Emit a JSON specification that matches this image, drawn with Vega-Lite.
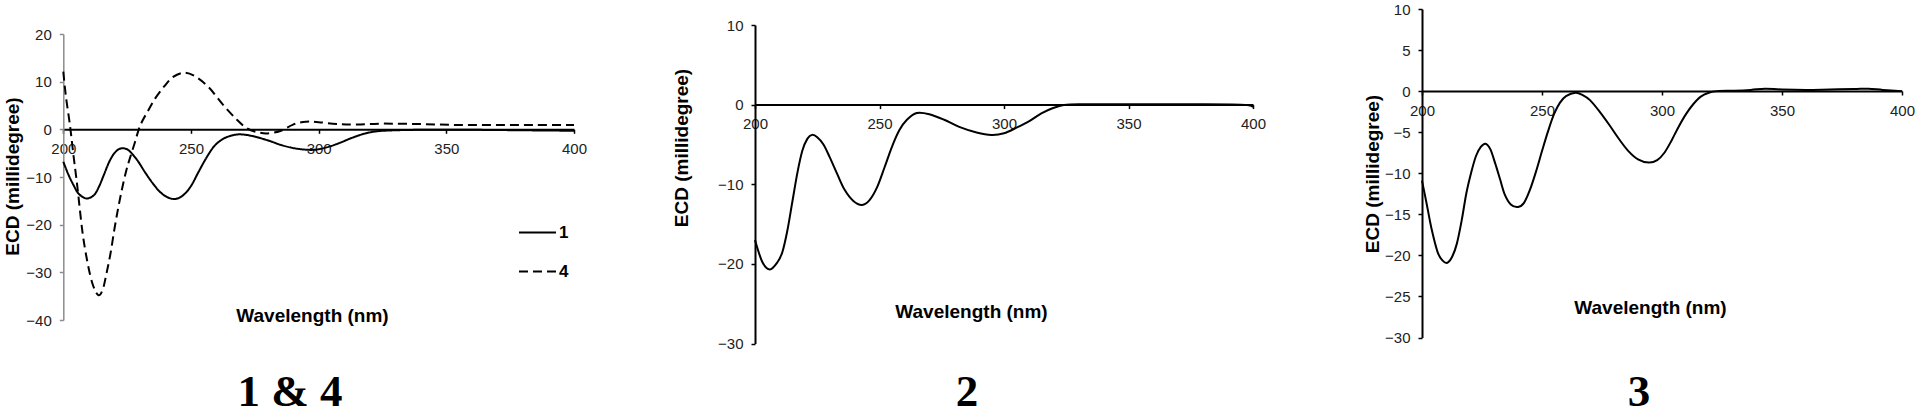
{
  "$schema": "https://vega.github.io/schema/vega-lite/v6.json",
  "padding": 0,
  "spacing": 0,
  "background": "white",
  "config": {
    "view": {"stroke": null},
    "axis": {
      "grid": false,
      "labelFont": "Liberation Sans",
      "labelFontSize": 15,
      "labelColor": "#222222",
      "labelFlush": false,
      "labelOverlap": false,
      "labelPadding": 8,
      "titleFont": "Liberation Sans",
      "titleFontSize": 19,
      "titleFontWeight": "bold",
      "titleColor": "black",
      "domainColor": "black",
      "domainWidth": 2,
      "tickColor": "black",
      "tickSize": 4,
      "tickWidth": 1.5
    },
    "line": {"color": "black", "strokeWidth": 2, "interpolate": "cardinal"}
  },
  "datasets": {
    "p1": [
      {"wl": 200, "ecd": -6.8, "compound": "1"},
      {"wl": 202, "ecd": -9.5, "compound": "1"},
      {"wl": 204, "ecd": -11.7, "compound": "1"},
      {"wl": 206, "ecd": -13.5, "compound": "1"},
      {"wl": 209, "ecd": -14.5, "compound": "1"},
      {"wl": 212, "ecd": -13.8, "compound": "1"},
      {"wl": 214, "ecd": -12.0, "compound": "1"},
      {"wl": 216, "ecd": -9.4, "compound": "1"},
      {"wl": 218, "ecd": -6.8, "compound": "1"},
      {"wl": 220, "ecd": -5.0, "compound": "1"},
      {"wl": 222, "ecd": -4.1, "compound": "1"},
      {"wl": 224, "ecd": -4.0, "compound": "1"},
      {"wl": 226, "ecd": -4.6, "compound": "1"},
      {"wl": 229, "ecd": -6.5, "compound": "1"},
      {"wl": 232, "ecd": -9.0, "compound": "1"},
      {"wl": 235, "ecd": -11.3, "compound": "1"},
      {"wl": 238, "ecd": -13.2, "compound": "1"},
      {"wl": 241, "ecd": -14.3, "compound": "1"},
      {"wl": 244, "ecd": -14.6, "compound": "1"},
      {"wl": 247, "ecd": -13.8, "compound": "1"},
      {"wl": 250, "ecd": -11.9, "compound": "1"},
      {"wl": 253, "ecd": -8.9, "compound": "1"},
      {"wl": 256, "ecd": -6.0, "compound": "1"},
      {"wl": 259, "ecd": -3.6, "compound": "1"},
      {"wl": 262, "ecd": -2.2, "compound": "1"},
      {"wl": 265, "ecd": -1.45, "compound": "1"},
      {"wl": 269, "ecd": -1.05, "compound": "1"},
      {"wl": 274, "ecd": -1.4, "compound": "1"},
      {"wl": 280, "ecd": -2.3, "compound": "1"},
      {"wl": 286, "ecd": -3.4, "compound": "1"},
      {"wl": 292, "ecd": -4.1, "compound": "1"},
      {"wl": 298, "ecd": -4.3, "compound": "1"},
      {"wl": 303, "ecd": -3.8, "compound": "1"},
      {"wl": 308, "ecd": -2.9, "compound": "1"},
      {"wl": 313, "ecd": -1.8, "compound": "1"},
      {"wl": 318, "ecd": -0.9, "compound": "1"},
      {"wl": 323, "ecd": -0.4, "compound": "1"},
      {"wl": 330, "ecd": -0.2, "compound": "1"},
      {"wl": 340, "ecd": -0.1, "compound": "1"},
      {"wl": 360, "ecd": -0.1, "compound": "1"},
      {"wl": 380, "ecd": -0.2, "compound": "1"},
      {"wl": 400, "ecd": -0.3, "compound": "1"},
      {"wl": 200, "ecd": 12.1, "compound": "4"},
      {"wl": 201, "ecd": 7.0, "compound": "4"},
      {"wl": 202.6, "ecd": 0.9, "compound": "4"},
      {"wl": 204, "ecd": -5.5, "compound": "4"},
      {"wl": 205.5, "ecd": -12.0, "compound": "4"},
      {"wl": 207.5, "ecd": -21.5, "compound": "4"},
      {"wl": 209.5, "ecd": -28.0, "compound": "4"},
      {"wl": 211.5, "ecd": -32.5, "compound": "4"},
      {"wl": 213.7, "ecd": -34.8, "compound": "4"},
      {"wl": 215.5, "ecd": -33.5, "compound": "4"},
      {"wl": 217, "ecd": -30.0, "compound": "4"},
      {"wl": 218.5, "ecd": -26.0, "compound": "4"},
      {"wl": 220, "ecd": -21.0, "compound": "4"},
      {"wl": 221.5, "ecd": -16.5, "compound": "4"},
      {"wl": 223, "ecd": -12.5, "compound": "4"},
      {"wl": 224.5, "ecd": -9.0, "compound": "4"},
      {"wl": 226, "ecd": -6.2, "compound": "4"},
      {"wl": 228, "ecd": -2.8, "compound": "4"},
      {"wl": 229.5, "ecd": -0.1, "compound": "4"},
      {"wl": 231, "ecd": 1.8, "compound": "4"},
      {"wl": 233, "ecd": 3.7, "compound": "4"},
      {"wl": 236, "ecd": 6.5, "compound": "4"},
      {"wl": 239.5, "ecd": 9.0, "compound": "4"},
      {"wl": 243, "ecd": 11.0, "compound": "4"},
      {"wl": 247.5, "ecd": 11.9, "compound": "4"},
      {"wl": 252, "ecd": 11.0, "compound": "4"},
      {"wl": 257, "ecd": 8.8, "compound": "4"},
      {"wl": 262.5, "ecd": 5.2, "compound": "4"},
      {"wl": 268, "ecd": 2.0, "compound": "4"},
      {"wl": 272, "ecd": 0.2, "compound": "4"},
      {"wl": 276, "ecd": -0.6, "compound": "4"},
      {"wl": 280, "ecd": -0.85, "compound": "4"},
      {"wl": 285, "ecd": -0.35, "compound": "4"},
      {"wl": 290, "ecd": 1.0, "compound": "4"},
      {"wl": 295, "ecd": 1.6, "compound": "4"},
      {"wl": 300, "ecd": 1.5, "compound": "4"},
      {"wl": 307, "ecd": 1.1, "compound": "4"},
      {"wl": 315, "ecd": 1.0, "compound": "4"},
      {"wl": 325, "ecd": 1.2, "compound": "4"},
      {"wl": 340, "ecd": 1.1, "compound": "4"},
      {"wl": 355, "ecd": 0.9, "compound": "4"},
      {"wl": 370, "ecd": 0.9, "compound": "4"},
      {"wl": 385, "ecd": 0.9, "compound": "4"},
      {"wl": 400, "ecd": 0.9, "compound": "4"}
    ],
    "p2": [
      {"wl": 200, "ecd": -17.0},
      {"wl": 203, "ecd": -19.8},
      {"wl": 206, "ecd": -20.7},
      {"wl": 209, "ecd": -19.8},
      {"wl": 211, "ecd": -18.5},
      {"wl": 213, "ecd": -15.8},
      {"wl": 215, "ecd": -12.2},
      {"wl": 217, "ecd": -8.6},
      {"wl": 219, "ecd": -5.8},
      {"wl": 221, "ecd": -4.3},
      {"wl": 223, "ecd": -3.8},
      {"wl": 225, "ecd": -4.1},
      {"wl": 227.5, "ecd": -5.0},
      {"wl": 230, "ecd": -6.6},
      {"wl": 233, "ecd": -8.7},
      {"wl": 236, "ecd": -10.7},
      {"wl": 239.5, "ecd": -12.1},
      {"wl": 243, "ecd": -12.6},
      {"wl": 246, "ecd": -12.0},
      {"wl": 249, "ecd": -10.4},
      {"wl": 252, "ecd": -7.9},
      {"wl": 255, "ecd": -5.3},
      {"wl": 258, "ecd": -3.2},
      {"wl": 261, "ecd": -1.9},
      {"wl": 265, "ecd": -1.05},
      {"wl": 270, "ecd": -1.2},
      {"wl": 276, "ecd": -1.9},
      {"wl": 282, "ecd": -2.8},
      {"wl": 289, "ecd": -3.5},
      {"wl": 295, "ecd": -3.8},
      {"wl": 300, "ecd": -3.6},
      {"wl": 305, "ecd": -2.9},
      {"wl": 310, "ecd": -2.1},
      {"wl": 315, "ecd": -1.1},
      {"wl": 320, "ecd": -0.4},
      {"wl": 324, "ecd": -0.05},
      {"wl": 330, "ecd": 0.05},
      {"wl": 350, "ecd": 0.05},
      {"wl": 375, "ecd": 0.05},
      {"wl": 395, "ecd": 0.0},
      {"wl": 400, "ecd": -0.3}
    ],
    "p3": [
      {"wl": 200, "ecd": -10.9},
      {"wl": 202, "ecd": -13.8},
      {"wl": 204, "ecd": -16.8},
      {"wl": 206.5, "ecd": -19.6},
      {"wl": 208.5, "ecd": -20.6},
      {"wl": 210.5, "ecd": -20.9},
      {"wl": 212.5, "ecd": -20.2},
      {"wl": 214.5, "ecd": -18.6},
      {"wl": 216.5, "ecd": -15.8},
      {"wl": 218.5, "ecd": -12.4},
      {"wl": 220.5, "ecd": -9.9},
      {"wl": 222.5, "ecd": -7.9},
      {"wl": 224.5, "ecd": -6.8},
      {"wl": 226.5, "ecd": -6.4},
      {"wl": 228.5, "ecd": -7.1},
      {"wl": 230.5, "ecd": -8.8},
      {"wl": 232.5, "ecd": -10.7},
      {"wl": 234.5, "ecd": -12.6},
      {"wl": 237, "ecd": -13.8},
      {"wl": 240, "ecd": -14.1},
      {"wl": 242.5, "ecd": -13.6},
      {"wl": 245, "ecd": -12.0},
      {"wl": 247.5, "ecd": -9.8},
      {"wl": 250, "ecd": -7.3},
      {"wl": 252.5, "ecd": -4.9},
      {"wl": 255, "ecd": -2.8},
      {"wl": 257.5, "ecd": -1.4},
      {"wl": 260, "ecd": -0.6},
      {"wl": 264, "ecd": -0.2},
      {"wl": 267, "ecd": -0.5},
      {"wl": 270, "ecd": -1.1},
      {"wl": 274, "ecd": -2.5},
      {"wl": 278, "ecd": -4.1},
      {"wl": 282, "ecd": -5.8},
      {"wl": 286, "ecd": -7.3},
      {"wl": 290, "ecd": -8.3},
      {"wl": 294.5, "ecd": -8.7},
      {"wl": 298, "ecd": -8.4},
      {"wl": 301, "ecd": -7.5},
      {"wl": 304, "ecd": -6.0},
      {"wl": 307, "ecd": -4.3},
      {"wl": 310, "ecd": -2.8},
      {"wl": 313, "ecd": -1.6},
      {"wl": 316, "ecd": -0.7},
      {"wl": 319.5, "ecd": -0.2},
      {"wl": 323, "ecd": 0.0},
      {"wl": 330, "ecd": 0.05},
      {"wl": 337, "ecd": 0.15},
      {"wl": 343, "ecd": 0.3},
      {"wl": 350, "ecd": 0.2},
      {"wl": 360, "ecd": 0.15},
      {"wl": 370, "ecd": 0.2},
      {"wl": 380, "ecd": 0.25},
      {"wl": 386, "ecd": 0.3},
      {"wl": 392, "ecd": 0.15},
      {"wl": 400, "ecd": 0.0}
    ]
  },
  "hconcat": [
    {
      "width": 640,
      "height": 415,
      "data": {"name": "p1"},
      "title": {"text": "1 & 4", "orient": "bottom", "frame": "group", "anchor": "middle", "offset": -9, "baseline": "alphabetic", "dx": -30, "font": "Liberation Serif", "fontSize": 45, "fontWeight": "bold", "color": "black"},
      "mark": {"type": "line"},
      "encoding": {
        "x": {"field": "wl", "type": "quantitative",
          "scale": {"domain": [200, 400], "range": [63.3, 574], "nice": false, "zero": false},
          "axis": {"orient": "bottom", "offset": -285.7, "values": [200, 250, 300, 350, 400], "title": "Wavelength (nm)", "titleX": 312, "titleY": 186, "titleAlign": "center", "titleBaseline": "middle"}},
        "y": {"field": "ecd", "type": "quantitative",
          "scale": {"domain": [-40, 20], "range": [320, 34], "nice": false, "zero": false},
          "axis": {"orient": "left", "offset": -63.3, "values": [-40, -30, -20, -10, 0, 10, 20], "title": "ECD (millidegree)", "titleX": -51, "titleY": 176, "titleAngle": -90, "titleAlign": "center", "titleBaseline": "middle", "domainColor": "#8c8c8c", "domainWidth": 1.5, "tickColor": "#8c8c8c"}},
        "strokeDash": {"field": "compound", "type": "nominal",
          "scale": {"domain": ["1", "4"], "range": [[1, 0], [9, 5]]},
          "legend": {"orient": "none", "legendX": 518, "legendY": 213, "title": null, "symbolType": "stroke", "symbolSize": 1369, "symbolStrokeWidth": 2, "symbolStrokeColor": "black", "labelFont": "Liberation Sans", "labelFontSize": 17, "labelFontWeight": "bold", "labelColor": "black", "labelOffset": 2, "rowPadding": 11, "padding": 0}}
      }
    },
    {
      "width": 640,
      "height": 415,
      "data": {"name": "p2"},
      "title": {"text": "2", "orient": "bottom", "frame": "group", "anchor": "middle", "offset": -9, "baseline": "alphabetic", "dx": 7, "font": "Liberation Serif", "fontSize": 45, "fontWeight": "bold", "color": "black"},
      "mark": {"type": "line"},
      "encoding": {
        "x": {"field": "wl", "type": "quantitative",
          "scale": {"domain": [200, 400], "range": [115, 613], "nice": false, "zero": false},
          "axis": {"orient": "bottom", "offset": -310.4, "values": [200, 250, 300, 350, 400], "title": "Wavelength (nm)", "titleX": 331, "titleY": 207, "titleAlign": "center", "titleBaseline": "middle"}},
        "y": {"field": "ecd", "type": "quantitative",
          "scale": {"domain": [-30, 10], "range": [343.5, 25], "nice": false, "zero": false},
          "axis": {"orient": "left", "offset": -115, "values": [-30, -20, -10, 0, 10], "title": "ECD (millidegree)", "titleX": -74, "titleY": 147.5, "titleAngle": -90, "titleAlign": "center", "titleBaseline": "middle"}}
      }
    },
    {
      "width": 640,
      "height": 415,
      "data": {"name": "p3"},
      "title": {"text": "3", "orient": "bottom", "frame": "group", "anchor": "middle", "offset": -9, "baseline": "alphabetic", "dx": 39, "font": "Liberation Serif", "fontSize": 45, "fontWeight": "bold", "color": "black"},
      "mark": {"type": "line"},
      "encoding": {
        "x": {"field": "wl", "type": "quantitative",
          "scale": {"domain": [200, 400], "range": [142, 622], "nice": false, "zero": false},
          "axis": {"orient": "bottom", "offset": -324, "values": [200, 250, 300, 350, 400], "title": "Wavelength (nm)", "titleX": 370, "titleY": 216, "titleAlign": "center", "titleBaseline": "middle"}},
        "y": {"field": "ecd", "type": "quantitative",
          "scale": {"domain": [-30, 10], "range": [337.5, 9], "nice": false, "zero": false},
          "axis": {"orient": "left", "offset": -142, "values": [-30, -25, -20, -15, -10, -5, 0, 5, 10], "title": "ECD (millidegree)", "titleX": -50, "titleY": 173.5, "titleAngle": -90, "titleAlign": "center", "titleBaseline": "middle"}}
      }
    }
  ]
}
